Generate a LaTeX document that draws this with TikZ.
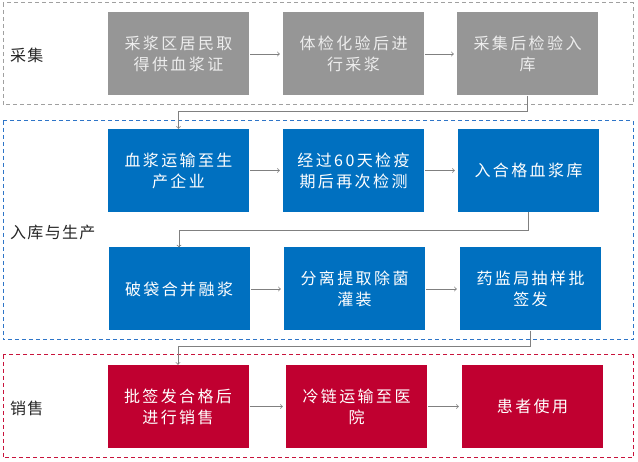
\documentclass[tikz,border=0pt]{standalone}
\usepackage{fontspec}
\usepackage{tikz}
\newfontfamily\cjk[LetterSpace=15]{Noto Sans CJK SC}
\newfontfamily\cjklabel[LetterSpace=8]{Noto Sans CJK SC}
\definecolor{boxgray}{RGB}{150,150,150}
\definecolor{boxblue}{RGB}{0,112,192}
\definecolor{boxred}{RGB}{192,0,48}
\definecolor{linegray}{RGB}{128,128,128}
\definecolor{dashgray}{RGB}{160,160,160}
\definecolor{dashblue}{RGB}{46,117,200}
\definecolor{dashred}{RGB}{200,20,60}

\begin{document}
\begin{tikzpicture}[x=1pt, y=-1pt,
    stepbox/.style={minimum width=141pt, minimum height=83pt, inner sep=0pt,
        align=center, font=\cjk\fontsize{16}{21}\selectfont},
    graybox/.style={stepbox, fill=boxgray, text=white!93!black},
    bluebox/.style={stepbox, fill=boxblue, text=white},
    redbox/.style={stepbox, fill=boxred, text=white},
    groupframe/.style={dash pattern=on 4pt off 3pt, line width=1pt},
    grouplabel/.style={anchor=west, inner sep=0pt, text=black!85,
        font=\cjklabel\fontsize{16}{21}\selectfont},
    flow/.style={->, draw=linegray, line width=0.8pt}]

    \useasboundingbox (0,0) rectangle (638,462);

    % Group frames
    \draw[groupframe, dashgray] (3,3) rectangle (633,105);
    \draw[groupframe, dashblue] (3,121) rectangle (633,340);
    \draw[groupframe, dashred] (3,355) rectangle (633,458);

    % Group labels
    \node[grouplabel] (lcj) at (10,55) {采集};
    \node[grouplabel] (lsc) at (10,232) {入库与生产};
    \node[grouplabel] (lxs) at (10,408) {销售};

    % Collection row
    \node[graybox] (a1) at (178.5,54) {采浆区居民取\\得供血浆证};
    \node[graybox] (a2) at (353.5,54) {体检化验后进\\行采浆};
    \node[graybox] (a3) at (527.5,54) {采集后检验入\\库};

    % Storage row
    \node[bluebox] (b1) at (178.5,170.5) {血浆运输至生\\产企业};
    \node[bluebox] (b2) at (353.5,170.5) {经过60天检疫\\期后再次检测};
    \node[bluebox] (b3) at (528.5,170.5) {入合格血浆库};

    % Production row
    \node[bluebox] (c1) at (179,289) {破袋合并融浆};
    \node[bluebox] (c2) at (354.5,289) {分离提取除菌\\灌装};
    \node[bluebox] (c3) at (530.5,289) {药监局抽样批\\签发};

    % Sales row
    \node[redbox] (d1) at (178,406.5) {批签发合格后\\进行销售};
    \node[redbox] (d2) at (356.5,406.5) {冷链运输至医\\院};
    \node[redbox] (d3) at (532.5,406.5) {患者使用};

    % Arrows within rows
    \foreach \r in {a,b,c,d}{
        \draw[flow, shorten <=1pt, shorten >=3pt] (\r1.east) -- (\r2.west);
        \draw[flow, shorten <=1pt, shorten >=3pt] (\r2.east) -- (\r3.west);
    }

    % Arrows between rows
    \draw[flow] (a3.south) -- ++(0,16) -| (b1.north);
    \draw[flow] (b3.south) -- ++(0,18) -| (c1.north);
    \draw[flow] (c3.south) -- ++(0,16) -| (d1.north);

\end{tikzpicture}
\end{document}
